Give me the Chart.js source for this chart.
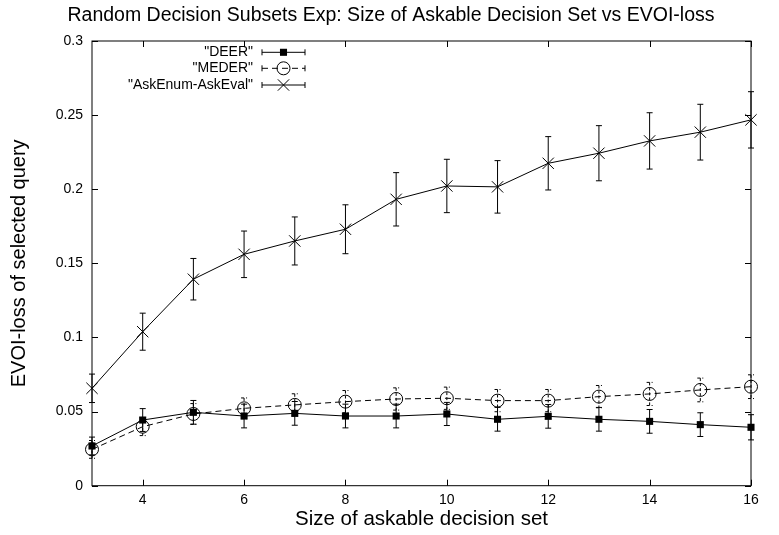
<!DOCTYPE html>
<html><head><meta charset="utf-8">
<script src="https://cdn.jsdelivr.net/npm/chart.js@4/dist/chart.umd.min.js"></script>
<style>html,body{margin:0;padding:0;background:#fff}#wrap{width:779px;height:535px}</style>
</head><body><div id="wrap"><canvas id="c" width="779" height="535"></canvas></div>
<script>
// ---- data ----
const sizes = [3,4,5,6,7,8,9,10,11,12,13,14,15,16];
const deer = [0.0268,0.0443,0.0495,0.0470,0.0488,0.0470,0.0470,0.0484,0.0448,0.0468,0.0448,0.0434,0.0412,0.0394];
const deerErr = [0.006,0.0077,0.008,0.008,0.008,0.008,0.008,0.0078,0.008,0.008,0.008,0.008,0.008,0.0085];
const meder = [0.0245,0.0398,0.0484,0.0522,0.0545,0.0567,0.0585,0.0590,0.0574,0.0574,0.0601,0.0619,0.0646,0.0668];
const mederErr = [0.006,0.006,0.007,0.007,0.0075,0.0075,0.0075,0.0075,0.0075,0.0075,0.0075,0.0078,0.008,0.008];
const askEnum = [0.0657,0.1039,0.1393,0.1561,0.1651,0.1730,0.1932,0.2022,0.2016,0.2175,0.2243,0.2326,0.2385,0.2468];
const askEnumErr = [0.0096,0.0125,0.014,0.0157,0.0162,0.0165,0.018,0.018,0.0177,0.018,0.0186,0.019,0.0188,0.019];
const seriesNames = ['"DEER"','"MEDER"','"AskEnum-AskEval"'];
const xTicks = [4,6,8,10,12,14,16];
const yTicks = [0,0.05,0.1,0.15,0.2,0.25,0.3];
const yTickLabels = ['0','0.05','0.1','0.15','0.2','0.25','0.3'];
const titleText = 'Random Decision Subsets Exp: Size of Askable Decision Set vs EVOI-loss';
const xTitle = 'Size of askable decision set';
const yTitle = 'EVOI-loss of selected query';

const FONT = '"Liberation Sans", Arial, Helvetica, sans-serif';
Chart.defaults.font.family = FONT;
Chart.defaults.color = '#000';

const toPts = arr => sizes.map((x, i) => ({x, y: arr[i]}));

const errorBarPlugin = {
  id: 'errorBars',
  afterDatasetsDraw(chart) {
    const ctx = chart.ctx, yS = chart.scales.y;
    chart.data.datasets.forEach((ds, di) => {
      const meta = chart.getDatasetMeta(di);
      ctx.save();
      ctx.strokeStyle = '#000';
      ctx.lineWidth = 1;
      ctx.setLineDash(ds.errDash || []);
      ctx.beginPath();
      meta.data.forEach((pt, i) => {
        const v = ds.data[i].y, e = ds.errors[i];
        const x = pt.x;
        const y1 = yS.getPixelForValue(v + e), y2 = yS.getPixelForValue(v - e);
        ctx.moveTo(x, y1); ctx.lineTo(x, y2);
        ctx.moveTo(x - 3, y1); ctx.lineTo(x + 3, y1);
        ctx.moveTo(x - 3, y2); ctx.lineTo(x + 3, y2);
      });
      ctx.stroke();
      ctx.restore();
    });
  }
};

const framePlugin = {
  id: 'frame',
  beforeDatasetsDraw(chart) {
    const {ctx, chartArea: {left, right, top, bottom}} = chart;
    const xS = chart.scales.x, yS = chart.scales.y;
    const L = 6;
    ctx.save();
    ctx.strokeStyle = '#000';
    ctx.lineWidth = 1;
    ctx.strokeRect(left, top, right - left, bottom - top);
    ctx.beginPath();
    xS.ticks.forEach(t => {
      const px = Math.round(xS.getPixelForValue(t.value)) + 0.5;
      ctx.moveTo(px, bottom); ctx.lineTo(px, bottom - L);
      ctx.moveTo(px, top); ctx.lineTo(px, top + L);
    });
    yS.ticks.forEach(t => {
      const py = Math.round(yS.getPixelForValue(t.value)) + 0.5;
      ctx.moveTo(left, py); ctx.lineTo(left + L, py);
      ctx.moveTo(right, py); ctx.lineTo(right - L, py);
    });
    ctx.stroke();
    ctx.restore();
  }
};

const legendPlugin = {
  id: 'gpLegend',
  afterDraw(chart) {
    const ctx = chart.ctx;
    const rows = [52.3, 68.3, 85];
    const textRight = 253, x0 = 262, x1 = 305, xc = (x0 + x1) / 2;
    ctx.save();
    ctx.font = '14px ' + FONT;
    ctx.textAlign = 'right';
    ctx.textBaseline = 'middle';
    chart.data.datasets.forEach((ds, i) => {
      const y = rows[i];
      ctx.fillStyle = '#000';
      ctx.fillText(ds.label, textRight, y);
      ctx.strokeStyle = '#000';
      ctx.lineWidth = 1;
      ctx.setLineDash(ds.borderDash || []);
      ctx.beginPath();
      ctx.moveTo(x0, y); ctx.lineTo(x1, y);
      ctx.moveTo(x0, y - 3); ctx.lineTo(x0, y + 3);
      ctx.moveTo(x1, y - 3); ctx.lineTo(x1, y + 3);
      ctx.stroke();
      ctx.setLineDash([]);
      ctx.fillStyle = ds.pointBackgroundColor;
      ctx.strokeStyle = '#000';
      ctx.lineWidth = ds.pointBorderWidth;
      Chart.helpers.drawPoint(ctx, {pointStyle: ds.pointStyle, radius: ds.pointRadius, borderWidth: ds.pointBorderWidth, rotation: 0}, xc, y);
    });
    ctx.restore();
  }
};

new Chart(document.getElementById('c'), {
  type: 'line',
  data: {
    datasets: [
      {label: seriesNames[0], data: toPts(deer), errors: deerErr, borderColor: '#000', borderWidth: 1,
       pointStyle: 'rect', pointRadius: 5, pointBackgroundColor: '#000', pointBorderColor: '#000', pointBorderWidth: 0,
       tension: 0, clip: false},
      {label: seriesNames[1], data: toPts(meder), errors: mederErr, errDash: [3, 2], borderColor: '#000', borderWidth: 1,
       borderDash: [6, 4], pointStyle: 'circle', pointRadius: 6.5, pointBackgroundColor: 'rgba(0,0,0,0)',
       pointBorderColor: '#000', pointBorderWidth: 1, tension: 0, clip: false},
      {label: seriesNames[2], data: toPts(askEnum), errors: askEnumErr, borderColor: '#000', borderWidth: 1,
       pointStyle: 'crossRot', pointRadius: 8, pointBackgroundColor: 'rgba(0,0,0,0)', pointBorderColor: '#000',
       pointBorderWidth: 1, tension: 0, clip: false}
    ]
  },
  options: {
    responsive: false,
    animation: false,
    devicePixelRatio: 1,
    layout: {padding: {left: 3, right: 0, top: 0, bottom: 0}},
    plugins: {
      legend: {display: false},
      tooltip: {enabled: false},
      title: {display: true, text: titleText, color: '#000',
              font: {size: 19.5, weight: 'normal', family: FONT},
              padding: {top: 3.8, bottom: 13.8}}
    },
    scales: {
      x: {
        type: 'linear', min: 3, max: 16,
        afterBuildTicks: s => { s.ticks = xTicks.map(v => ({value: v})); },
        afterFit: s => { s.height = 49.3; },
        grid: {display: false, drawTicks: false},
        border: {display: false},
        ticks: {color: '#000', font: {size: 14}, padding: 6.4, maxRotation: 0, autoSkip: false},
        title: {display: true, text: xTitle, color: '#000', font: {size: 20.5}, padding: {top: 0, bottom: 3.2}}
      },
      y: {
        type: 'linear', min: 0, max: 0.3,
        afterBuildTicks: s => { s.ticks = yTicks.map(v => ({value: v})); },
        afterFit: s => { s.width = 89; },
        grid: {display: false, drawTicks: false},
        border: {display: false},
        ticks: {color: '#000', font: {size: 14}, padding: 9, autoSkip: false,
                callback: (v, i) => yTickLabels[i]},
        title: {display: true, text: yTitle, color: '#000', font: {size: 20}, padding: {top: 4.5, bottom: 0}}
      },
      y2: {
        position: 'right', display: true,
        afterFit: s => { s.width = 28; },
        grid: {display: false, drawTicks: false},
        border: {display: false},
        ticks: {display: false}
      }
    }
  },
  plugins: [framePlugin, errorBarPlugin, legendPlugin]
});
</script>
</body></html>
